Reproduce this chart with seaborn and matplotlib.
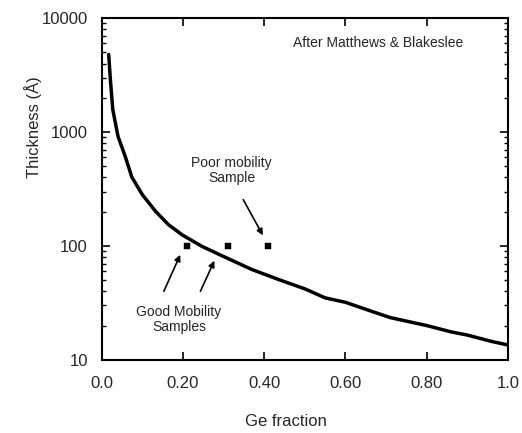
import matplotlib
matplotlib.use("Agg")
import matplotlib.pyplot as plt
import matplotlib.ticker as mticker
import seaborn as sns
import pandas as pd

# critical thickness curve (Matthews & Blakeslee)
ge_fraction = [0.017, 0.021, 0.027, 0.040, 0.058, 0.074, 0.099, 0.132, 0.164,
               0.198, 0.247, 0.296, 0.37, 0.44, 0.50, 0.55, 0.60, 0.66, 0.71,
               0.80, 0.86, 0.90, 0.96, 1.00]
thickness = [4800, 2930, 1580, 915, 607, 402, 285, 202, 154,
             125, 99, 82, 62, 50, 42, 35, 32, 27, 23.5,
             20, 17.6, 16.5, 14.5, 13.5]

# measured samples
sample_x = [0.21, 0.31, 0.41]
sample_y = [100, 100, 100]

x_ticks = [0.0, 0.2, 0.4, 0.6, 0.8, 1.0]
x_tick_labels = ["0.0", "0.20", "0.40", "0.60", "0.80", "1.0"]
y_ticks = [10, 100, 1000, 10000]

sns.set_style("ticks")
plt.rcParams["font.family"] = ["Liberation Sans", "DejaVu Sans"]

curve = pd.DataFrame({"x": ge_fraction, "y": thickness})
samples = pd.DataFrame({"x": sample_x, "y": sample_y})

fig, ax = plt.subplots(figsize=(5.22, 4.33), dpi=100)
fig.subplots_adjust(left=0.195, right=0.973, top=0.958, bottom=0.169)

sns.lineplot(data=curve, x="x", y="y", ax=ax, color="black", linewidth=2.5)
sns.scatterplot(data=samples, x="x", y="y", ax=ax, color="black", marker="s",
                s=18, edgecolor="black", zorder=5)

ax.set_yscale("log")
ax.set_xlim(0, 1)
ax.set_ylim(10, 10000)
ax.set_xticks(x_ticks)
ax.set_xticklabels(x_tick_labels)
ax.set_yticks(y_ticks)
ax.yaxis.set_major_formatter(mticker.FuncFormatter(lambda v, p: f"{int(v)}"))
ax.yaxis.set_minor_locator(mticker.LogLocator(base=10, subs=range(2, 10)))
ax.yaxis.set_minor_formatter(mticker.NullFormatter())

ax.tick_params(which="both", direction="in", top=True, right=True,
               labelsize=12, color="black")
ax.tick_params(which="major", length=6, width=1.2)
ax.tick_params(axis="x", which="major", pad=12)
ax.tick_params(axis="y", which="major", pad=10)
ax.tick_params(which="minor", length=3, width=1)
for s in ax.spines.values():
    s.set_linewidth(1.5)
    s.set_color("black")

ax.set_xlabel("Ge fraction", fontsize=12)
ax.set_ylabel("Thickness (Å)", fontsize=12)
ax.xaxis.set_label_coords(0.453, -0.16)
ax.yaxis.set_label_coords(-0.147, 0.68)

ax.text(0.68, 6000, "After Matthews & Blakeslee", ha="center", va="center",
        fontsize=10)
ax.text(0.32, 457, "Poor mobility\nSample", ha="center", va="center",
        fontsize=10, linespacing=1.1)
ax.text(0.19, 22.8, "Good Mobility\nSamples", ha="center", va="center",
        fontsize=10, linespacing=1.1)

arrow = dict(arrowstyle="-|>", color="black", lw=1.2, mutation_scale=9)
ax.annotate("", xy=(0.40, 118), xytext=(0.345, 268), arrowprops=arrow)
ax.annotate("", xy=(0.196, 88), xytext=(0.15, 38), arrowprops=arrow)
ax.annotate("", xy=(0.28, 78), xytext=(0.24, 38), arrowprops=arrow)

fig.savefig("out.png", dpi=100)
